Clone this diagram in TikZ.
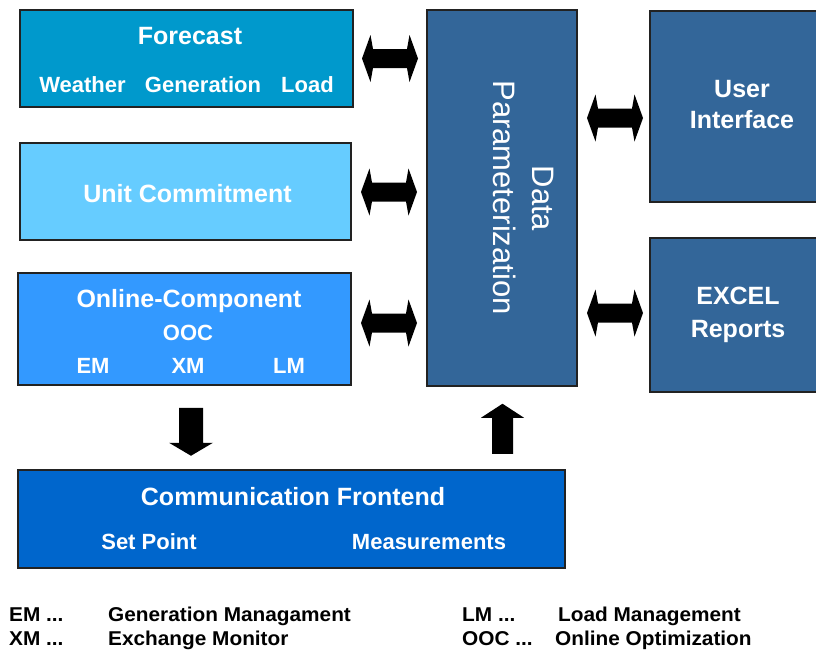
\documentclass[tikz,border=0pt]{standalone}
\usepackage{fontspec}
\setmainfont{Liberation Sans}
\newfontfamily\legfont[FakeStretch=1.04]{Liberation Sans}
\usetikzlibrary{calc}
\definecolor{cfc}{HTML}{0099CC}
\definecolor{cuc}{HTML}{66CCFF}
\definecolor{coc}{HTML}{3399FF}
\definecolor{cdp}{HTML}{336699}
\definecolor{ccf}{HTML}{0066CC}
\definecolor{cedge}{HTML}{222222}
\tikzset{
  box/.style={rectangle, draw=cedge, line width=1.5pt, inner sep=0pt},
  ttl/.style={text=white, font=\bfseries\fontsize{25}{30}\selectfont, anchor=base, inner sep=0pt},
  sub/.style={text=white, font=\bfseries\fontsize{22}{26}\selectfont, anchor=base, inner sep=0pt},
  dpt/.style={text=white, font=\fontsize{31}{36}\selectfont, anchor=base, inner sep=0pt, rotate=-90},
  leg/.style={text=black, font=\legfont\bfseries\fontsize{20}{24}\selectfont, anchor=base west, inner sep=0pt},
  blk/.style={fill=black, draw=none}
}
\newcommand{\dblarrowat}[1]{%
  \fill[blk, shift={#1}] (-28,0) -- (-19.5,-23.5) -- (-17,-9.5) -- (17,-9.5) -- (19.5,-23.5) -- (28,0)
    -- (19.5,23.5) -- (17,9.5) -- (-17,9.5) -- (-19.5,23.5) -- cycle;}
\begin{document}
\begin{tikzpicture}[x=1pt, y=-1pt]
\useasboundingbox (0,0) rectangle (816,653);
\clip (0,0) rectangle (816,653);
\fill[white] (0,0) rectangle (816,653);

% boxes
\node[box, fill=cfc, minimum width=333pt, minimum height=97pt] (fc) at (186.5,58.5) {};
\node[box, fill=cuc, minimum width=331pt, minimum height=97pt] (uc) at (185.5,191.5) {};
\node[box, fill=coc, minimum width=333pt, minimum height=112pt] (oc) at (184.5,329) {};
\node[box, fill=cdp, minimum width=150pt, minimum height=376pt] (dp) at (502,198) {};
\node[box, fill=cdp, minimum width=184pt, minimum height=191pt] (ui) at (742,106.5) {};
\node[box, fill=cdp, minimum width=184pt, minimum height=154pt] (ex) at (742,315) {};
\node[box, fill=ccf, minimum width=547pt, minimum height=98pt] (cf) at (291.5,519) {};

% texts
\node[ttl] (tfc) at (190,44) {Forecast};
\node[sub] (tw) at (82.5,92) {Weather};
\node[sub] (tg) at (203,92) {Generation};
\node[sub] (tl) at (307.5,92) {Load};
\node[ttl] (tuc) at (187.5,202) {Unit Commitment};
\node[ttl] (toc) at (189,307) {Online-Component};
\node[sub] (tooc) at (188,340) {OOC};
\node[sub] (tem) at (93,373) {EM};
\node[sub] (txm) at (188,373) {XM};
\node[sub] (tlm) at (289,373) {LM};
\node[ttl] (tcf) at (293,505) {Communication Frontend};
\node[sub] (tsp) at (149,549) {Set Point};
\node[sub] (tms) at (429,549) {Measurements};
\node[ttl] (tu1) at (742,97) {User};
\node[ttl] (tu2) at (742,128) {Interface};
\node[ttl] (te1) at (738,304) {EXCEL};
\node[ttl] (te2) at (738,337) {Reports};
\node[dpt] (td1) at (532,198.5) {Data};
\node[dpt] (td2) at (493,197.5) {Parameterization};

% legend
\node[leg] (l1a) at (9,621) {EM ...};
\node[leg] (l1b) at (108,621) {Generation Managament};
\node[leg] (l2a) at (9,645) {XM ...};
\node[leg] (l2b) at (108,645) {Exchange Monitor};
\node[leg] (l3a) at (462,621) {LM ...};
\node[leg] (l3b) at (558,621) {Load Management};
\node[leg] (l4a) at (462,645) {OOC ...};
\node[leg] (l4b) at (555,645) {Online Optimization};

% double arrows left
\dblarrowat{($(fc.east)!0.5!(dp.west |- fc.east)$)}
\dblarrowat{($(uc.east)!0.5!(dp.west |- uc.east)+(0,0.5)$)}
\dblarrowat{($(oc.east)!0.5!(dp.west |- oc.east)+(0,-6)$)}
% double arrows right
\dblarrowat{($(dp.east |- ui.west)!0.5!(ui.west)+(1.5,11.5)$)}
\dblarrowat{($(dp.east |- ex.west)!0.5!(ex.west)+(1.5,-2)$)}

% down arrow Online-Component -> Communication Frontend
\fill[blk, shift={($(oc.south)+(6.5,0)$)}] (-12,22) -- (12,22) -- (12,57) -- (22,57) -- (0,70)
  -- (-22,57) -- (-12,57) -- cycle;
% up arrow Communication Frontend -> Data Parameterization
\fill[blk, shift={($(dp.south)+(0.5,0)$)}] (0,17) -- (21.5,31) -- (10.5,31) -- (10.5,67)
  -- (-10.5,67) -- (-10.5,31) -- (-21.5,31) -- cycle;
\end{tikzpicture}
\end{document}
